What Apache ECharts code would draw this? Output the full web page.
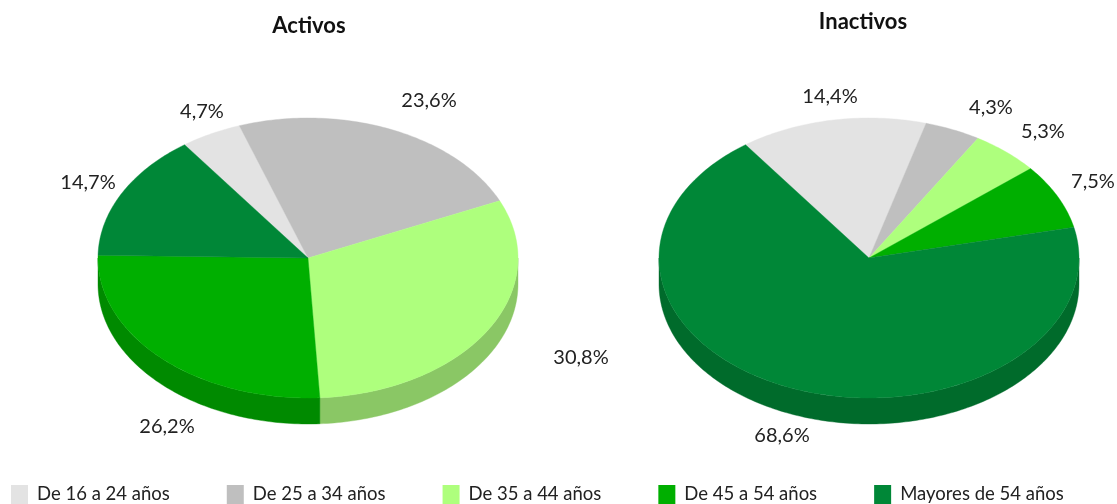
<!DOCTYPE html>
<html><head><meta charset="utf-8">
<style>html,body{margin:0;padding:0;background:#fff}#c{width:1117px;height:504px}</style>
<script src="https://cdn.jsdelivr.net/npm/echarts@6/dist/echarts.min.js"></script>
</head><body><div id="c"></div>
<script>
const categories = ['De 16 a 24 años','De 25 a 34 años','De 35 a 44 años','De 45 a 54 años','Mayores de 54 años'];
const activos = [4.7,23.6,30.8,26.2,14.7];
const inactivos = [14.4,4.3,5.3,7.5,68.6];
const topColors = ['#E3E3E3','#BFBFBF','#AEFF7D','#00AF00','#008737'];
const sideColors = ['#ABABAB','#8F8F8F','#8AC765','#008A00','#006B2B'];
const FONT = 'Lato';
const pies = [
  {title:'Activos', values:activos, cx:308, cy:258, labels:[[202,112],[429,101],[581,358],[167,427],[88,183]]},
  {title:'Inactivos', values:inactivos, cx:869, cy:258, labels:[[830,97],[991,108],[1043,132],[1093,182],[782,436]]}
];
const RX=210, RY=140, DEPTH=26, START=324;
function pt(p,deg,dy){const r=deg*Math.PI/180;return [p.cx+RX*Math.sin(r),p.cy-RY*Math.cos(r)+(dy||0)];}
function arc(p,a,b,dy){const n=Math.max(2,Math.ceil(Math.abs(b-a)));const o=[];for(let i=0;i<=n;i++)o.push(pt(p,a+(b-a)*i/n,dy));return o;}
function fmt(v){return v.toFixed(1).replace('.',',')+'%';}
const series=[];
pies.forEach(function(p){
  const total=p.values.reduce(function(s,v){return s+v;},0);
  let cum=0;
  p.values.forEach(function(v,i){
    const before=cum; cum+=v;
    series.push({
      type:'custom',name:categories[i],coordinateSystem:'none',
      itemStyle:{color:topColors[i]},
      data:[[v,before,total]],
      renderItem:function(params,api){
        const s=START+api.value(1)/api.value(2)*360, e=s+api.value(0)/api.value(2)*360;
        const color=api.visual('color');
        const children=[];
        [[90,270],[450,630]].forEach(function(w){
          const a=Math.max(s,w[0]), b=Math.min(e,w[1]);
          if(b>a){
            const pts=arc(p,a,b,0).concat(arc(p,b,a,DEPTH));
            children.push({type:'polygon',shape:{points:pts},style:{fill:sideColors[i],stroke:sideColors[i],lineWidth:0.4}});
          }
        });
        children.push({type:'polygon',shape:{points:[[p.cx,p.cy]].concat(arc(p,s,e,0))},style:{fill:color,stroke:color,lineWidth:0.4}});
        children.push({type:'text',style:{x:p.labels[i][0],y:p.labels[i][1],text:fmt(api.value(0)),align:'center',verticalAlign:'middle',fill:'#222',font:'20px '+FONT}});
        return {type:'group',children:children};
      }
    });
  });
});
const chart=echarts.init(document.getElementById('c'),null,{renderer:'canvas'});
chart.setOption({
  animation:false,backgroundColor:'#fff',
  title:[
    {text:pies[0].title,left:304,top:10,textAlign:'center',textStyle:{fontFamily:FONT,fontSize:22,fontWeight:'bold',color:'#111'}},
    {text:pies[1].title,left:858,top:6,textAlign:'center',textStyle:{fontFamily:FONT,fontSize:22,fontWeight:'bold',color:'#111'}}
  ],
  legend:{data:categories,left:11,top:485,padding:0,icon:'rect',itemWidth:17,itemHeight:19,itemGap:57,selectedMode:false,textStyle:{fontFamily:FONT,fontSize:18.5,color:'#222',padding:[0,0,0,4]}},
  series:series
});
</script></body></html>
